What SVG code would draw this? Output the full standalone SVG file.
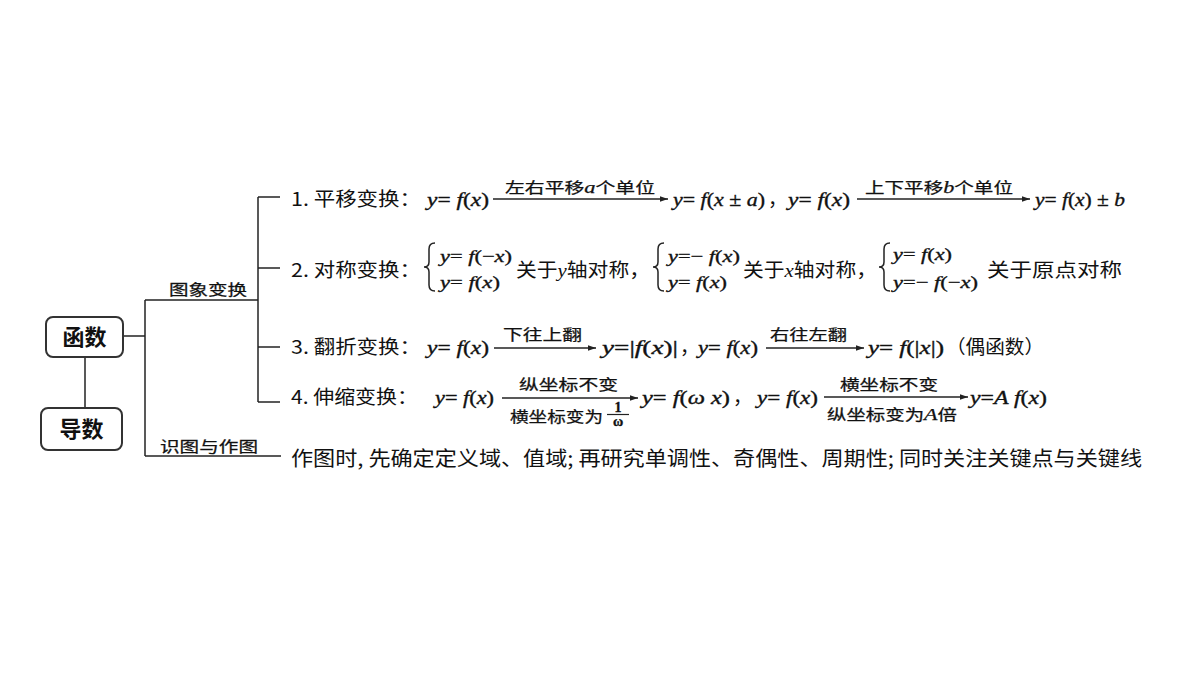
<svg xmlns="http://www.w3.org/2000/svg" width="1200" height="675" viewBox="0 0 1200 675">
<style>
.cn{font-family:"Noto Sans CJK SC","Liberation Sans",sans-serif;font-size:19px;fill:#111}
.lb{font-family:"Noto Sans CJK SC","Liberation Sans",sans-serif;font-size:15px;fill:#111;stroke:#111;stroke-width:0.25}
.bx{font-family:"Noto Sans CJK SC","Liberation Sans",sans-serif;font-size:22px;font-weight:bold;fill:#111}
.m{font-family:"Liberation Serif",serif;font-size:19px;fill:#111;stroke:#111;stroke-width:0.35}
.ms{font-family:"Liberation Serif",serif;font-size:17px;fill:#111;stroke:#111;stroke-width:0.35}
.i{font-style:italic}
.ln{stroke:#222;stroke-width:1.5;fill:none}
.ar{stroke:#222;stroke-width:1.3;fill:none}
.box{fill:#fff;stroke:#333;stroke-width:2}
</style>
<defs>
<marker id="ah" viewBox="0 0 10 10" refX="10" refY="5" markerWidth="8" markerHeight="8" markerUnits="userSpaceOnUse" orient="auto">
<path d="M0,1.5 L10,5 L0,8.5 Z" fill="#222"/>
</marker>
</defs>
<rect width="1200" height="675" fill="#fff"/>

<g id="connectors">
<line class="ln" x1="85" y1="357" x2="85" y2="408"/>
<line class="ln" x1="123" y1="336" x2="145" y2="336"/>
<line class="ln" x1="145" y1="300" x2="145" y2="456"/>
<line class="ln" x1="145" y1="300" x2="258" y2="300"/>
<line class="ln" x1="145" y1="456" x2="281" y2="456"/>
<line class="ln" x1="258" y1="197" x2="258" y2="402"/>
<line class="ln" x1="258" y1="197" x2="280" y2="197"/>
<line class="ln" x1="258" y1="268" x2="280" y2="268"/>
<line class="ln" x1="258" y1="347" x2="280" y2="347"/>
<line class="ln" x1="258" y1="402" x2="280" y2="402"/>
</g>

<g id="node-hanshu">
<rect class="box" x="46" y="317" width="77" height="40" rx="7"/>
<text class="bx" x="84.5" y="345" text-anchor="middle">函数</text>
</g>
<g id="node-daoshu">
<rect class="box" x="41" y="408" width="81" height="42" rx="7"/>
<text class="bx" x="81.5" y="437" text-anchor="middle">导数</text>
</g>
<g id="label-tuxiang">
<text class="lb" x="169" y="295" textLength="78" lengthAdjust="spacingAndGlyphs">图象变换</text>
</g>
<g id="label-shitu">
<text class="lb" x="160" y="452" textLength="98" lengthAdjust="spacingAndGlyphs">识图与作图</text>
</g>

<g id="row1">
<text class="cn" x="291" y="206" textLength="130" lengthAdjust="spacingAndGlyphs">1. 平移变换：</text>
<text class="m" x="427" y="206" textLength="62" lengthAdjust="spacingAndGlyphs"><tspan class="i">y</tspan>= <tspan class="i">f</tspan>(<tspan class="i">x</tspan>)</text>
<line class="ar" x1="493" y1="199" x2="668" y2="199" marker-end="url(#ah)"/>
<text class="lb" x="505" y="193" textLength="150" lengthAdjust="spacingAndGlyphs">左右平移<tspan class="i" style="font-family:'Liberation Serif',serif;font-size:17px">a</tspan>个单位</text>
<text class="m" x="673" y="206" textLength="92" lengthAdjust="spacingAndGlyphs"><tspan class="i">y</tspan>= <tspan class="i">f</tspan>(<tspan class="i">x</tspan> ± <tspan class="i">a</tspan>)</text>
<text class="cn" x="768" y="206">，</text>
<text class="m" x="788" y="206" textLength="62" lengthAdjust="spacingAndGlyphs"><tspan class="i">y</tspan>= <tspan class="i">f</tspan>(<tspan class="i">x</tspan>)</text>
<line class="ar" x1="857" y1="199" x2="1030" y2="199" marker-end="url(#ah)"/>
<text class="lb" x="865" y="193" textLength="148" lengthAdjust="spacingAndGlyphs">上下平移<tspan class="i" style="font-family:'Liberation Serif',serif;font-size:17px">b</tspan>个单位</text>
<text class="m" x="1035" y="206" textLength="90" lengthAdjust="spacingAndGlyphs"><tspan class="i">y</tspan>= <tspan class="i">f</tspan>(<tspan class="i">x</tspan>) ± <tspan class="i">b</tspan></text>
</g>

<g id="row2">
<text class="cn" x="291" y="277" textLength="130" lengthAdjust="spacingAndGlyphs">2. 对称变换：</text>
<path class="ln" d="M435,243 Q429,243 429,249 L429,262 Q429,267 424,267 Q429,267 429,272 L429,285 Q429,291 435,291"/>
<text class="ms" x="440" y="262" textLength="72" lengthAdjust="spacingAndGlyphs"><tspan class="i">y</tspan>= <tspan class="i">f</tspan>(−<tspan class="i">x</tspan>)</text>
<text class="ms" x="440" y="288" textLength="60" lengthAdjust="spacingAndGlyphs"><tspan class="i">y</tspan>= <tspan class="i">f</tspan>(<tspan class="i">x</tspan>)</text>
<text class="cn" x="516" y="277" textLength="134" lengthAdjust="spacingAndGlyphs">关于<tspan class="i" style="font-family:'Liberation Serif',serif">y</tspan>轴对称，</text>
<path class="ln" d="M664,243 Q658,243 658,249 L658,262 Q658,267 653,267 Q658,267 658,272 L658,285 Q658,291 664,291"/>
<text class="ms" x="668" y="262" textLength="72" lengthAdjust="spacingAndGlyphs"><tspan class="i">y</tspan>=− <tspan class="i">f</tspan>(<tspan class="i">x</tspan>)</text>
<text class="ms" x="668" y="288" textLength="59" lengthAdjust="spacingAndGlyphs"><tspan class="i">y</tspan>= <tspan class="i">f</tspan>(<tspan class="i">x</tspan>)</text>
<text class="cn" x="743" y="277" textLength="134" lengthAdjust="spacingAndGlyphs">关于<tspan class="i" style="font-family:'Liberation Serif',serif">x</tspan>轴对称，</text>
<path class="ln" d="M890,243 Q884,243 884,249 L884,262 Q884,267 879,267 Q884,267 884,272 L884,285 Q884,291 890,291"/>
<text class="ms" x="893" y="260" textLength="59" lengthAdjust="spacingAndGlyphs"><tspan class="i">y</tspan>= <tspan class="i">f</tspan>(<tspan class="i">x</tspan>)</text>
<text class="ms" x="893" y="288" textLength="85" lengthAdjust="spacingAndGlyphs"><tspan class="i">y</tspan>=− <tspan class="i">f</tspan>(−<tspan class="i">x</tspan>)</text>
<text class="cn" x="987" y="277" textLength="135" lengthAdjust="spacingAndGlyphs">关于原点对称</text>
</g>

<g id="row3">
<text class="cn" x="291" y="354" textLength="130" lengthAdjust="spacingAndGlyphs">3. 翻折变换：</text>
<text class="m" x="427" y="354" textLength="62" lengthAdjust="spacingAndGlyphs"><tspan class="i">y</tspan>= <tspan class="i">f</tspan>(<tspan class="i">x</tspan>)</text>
<line class="ar" x1="494" y1="348" x2="596" y2="348" marker-end="url(#ah)"/>
<text class="lb" x="503" y="340" textLength="79" lengthAdjust="spacingAndGlyphs">下往上翻</text>
<text class="m" x="602" y="354" textLength="76" lengthAdjust="spacingAndGlyphs"><tspan class="i">y</tspan>=|<tspan class="i">f</tspan>(<tspan class="i">x</tspan>)|</text>
<text class="cn" x="680" y="354">，</text>
<text class="m" x="698" y="354" textLength="60" lengthAdjust="spacingAndGlyphs"><tspan class="i">y</tspan>= <tspan class="i">f</tspan>(<tspan class="i">x</tspan>)</text>
<line class="ar" x1="766" y1="348" x2="864" y2="348" marker-end="url(#ah)"/>
<text class="lb" x="770" y="340" textLength="77" lengthAdjust="spacingAndGlyphs">右往左翻</text>
<text class="m" x="868" y="354" textLength="76" lengthAdjust="spacingAndGlyphs"><tspan class="i">y</tspan>= <tspan class="i">f</tspan>(|<tspan class="i">x</tspan>|)</text>
<text class="cn" x="946" y="354" textLength="98" lengthAdjust="spacingAndGlyphs">（偶函数）</text>
</g>

<g id="row4">
<text class="cn" x="291" y="404" textLength="127" lengthAdjust="spacingAndGlyphs">4. 伸缩变换：</text>
<text class="m" x="435" y="404" textLength="59" lengthAdjust="spacingAndGlyphs"><tspan class="i">y</tspan>= <tspan class="i">f</tspan>(<tspan class="i">x</tspan>)</text>
<line class="ar" x1="502" y1="398" x2="638" y2="398" marker-end="url(#ah)"/>
<text class="lb" x="519" y="390" textLength="99" lengthAdjust="spacingAndGlyphs">纵坐标不变</text>
<text class="lb" x="510" y="422" textLength="93" lengthAdjust="spacingAndGlyphs">横坐标变为</text>
<text class="m" x="618" y="412" text-anchor="middle" style="font-size:14px;font-weight:bold">1</text>
<line class="ln" x1="607" y1="414.5" x2="629" y2="414.5" style="stroke-width:1.2"/>
<text class="m" x="618" y="426" text-anchor="middle" style="font-size:14px;font-weight:bold">ω</text>
<text class="m" x="642" y="404" textLength="88" lengthAdjust="spacingAndGlyphs"><tspan class="i">y</tspan>= <tspan class="i">f</tspan>(<tspan class="i">ω x</tspan>)</text>
<text class="cn" x="733" y="404">，</text>
<text class="m" x="757" y="404" textLength="61" lengthAdjust="spacingAndGlyphs"><tspan class="i">y</tspan>= <tspan class="i">f</tspan>(<tspan class="i">x</tspan>)</text>
<line class="ar" x1="824" y1="397" x2="968" y2="397" marker-end="url(#ah)"/>
<text class="lb" x="840" y="390" textLength="98" lengthAdjust="spacingAndGlyphs">横坐标不变</text>
<text class="lb" x="827" y="420" textLength="130" lengthAdjust="spacingAndGlyphs">纵坐标变为<tspan class="i" style="font-family:'Liberation Serif',serif;font-size:17px">A</tspan>倍</text>
<text class="m" x="970" y="404" textLength="77" lengthAdjust="spacingAndGlyphs"><tspan class="i">y</tspan>=<tspan class="i">A f</tspan>(<tspan class="i">x</tspan>)</text>
</g>

<g id="row5">
<text class="cn" x="291" y="466" style="font-size:20px" textLength="851" lengthAdjust="spacingAndGlyphs">作图时, 先确定定义域、值域; 再研究单调性、奇偶性、周期性; 同时关注关键点与关键线</text>
</g>
</svg>
